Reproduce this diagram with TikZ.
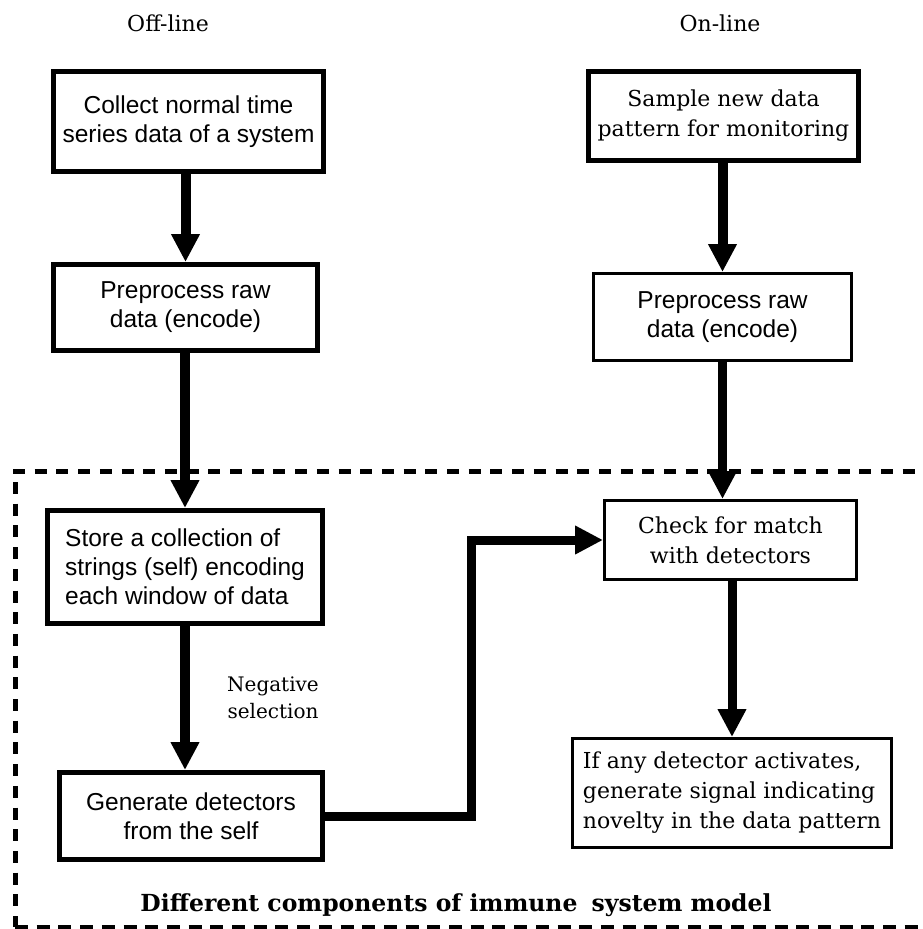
\documentclass[tikz,border=0pt]{standalone}
\usepackage{fontspec}
\setmainfont{DejaVu Serif}
\newfontfamily\sansf{Liberation Sans}
\usetikzlibrary{arrows.meta}
\tikzset{
  thickbox/.style={draw, line width=5pt, inner sep=0pt},
  thinbox/.style={draw, line width=3pt, inner sep=0pt},
  sanstext/.style={font=\sansf\fontsize{24.5}{29}\selectfont},
  seriftext/.style={font=\fontsize{22}{30}\selectfont},
  flow/.style={line width=10pt, -{Triangle[width=27pt,length=28pt]}},
  flowthin/.style={line width=9pt, -{Triangle[width=27pt,length=28pt]}, line join=miter},
  dashtop/.style={line width=5pt, dash pattern=on 12pt off 9.7pt},
  dashbot/.style={line width=4pt, dash pattern=on 13pt off 8.7pt},
}
\begin{document}
\begin{tikzpicture}[x=1pt,y=-1pt]
\useasboundingbox (0,0) rectangle (923,929);
% headings
\node[seriftext] (offline) at (168,23) {Off-line};
\node[seriftext] (online) at (720,23) {On-line};
% left column
\node[thickbox, sanstext, align=center, minimum width=270pt, minimum height=100pt] (collect) at (188.5,121.5)
  {Collect normal time\\series data of a system};
\node[thickbox, sanstext, align=center, minimum width=264pt, minimum height=86pt] (preL) at (185.5,307.5)
  {Preprocess raw\\data (encode)};
\node[thickbox, sanstext, align=left, minimum width=275pt, minimum height=113pt] (store) at (185,567)
  {Store a collection of\\strings (self) encoding\\each window of data};
\node[thickbox, sanstext, align=center, minimum width=263pt, minimum height=87pt] (gen) at (191,816)
  {Generate detectors\\from the self};
% right column
\node[thickbox, seriftext, align=center, minimum width=270pt, minimum height=89pt] (sample) at (723.5,116)
  {Sample new data\\pattern for monitoring};
\node[thinbox, sanstext, align=center, minimum width=258pt, minimum height=87pt] (preR) at (722.5,317)
  {Preprocess raw\\data (encode)};
\node[thinbox, seriftext, align=center, minimum width=252pt, minimum height=79pt] (check) at (730.5,540)
  {Check for match\\with detectors};
\node[thinbox, seriftext, align=left, minimum width=319pt, minimum height=109pt] (alarm) at (732,793)
  {If any detector activates,\\generate signal indicating\\novelty in the data pattern};
% labels
\node[font=\fontsize{20}{27}\selectfont, align=center] (neg) at (273,698) {Negative\\selection};
\node[font=\bfseries\fontsize{23.5}{26}\selectfont] (title) at (456,905) {Different components of immune\hspace{6pt} system model};
% dashed region
\coordinate (dtl) at (13,471);
\coordinate (dtr) at (930,471);
\coordinate (dl1) at (15,482);
\coordinate (dbl) at (15,927);
\coordinate (dbr) at (930,927);
\draw[dashtop] (dtl) -- (dtr);
\draw[dashtop] (dl1) -- (dbl);
\draw[dashbot] (dbl) -- (dbr);
% connectors
\draw[flow] (preL.north |- collect.south) -- (preL.north);
\draw[flow] (store.north |- preL.south) -- (store.north);
\draw[flow] (store.south) -- (store.south |- gen.north);
\draw[flow] (preR.north |- sample.south) -- (preR.north);
\draw[flowthin] (preR.south) -- (preR.south |- check.north);
\draw[flowthin] (alarm.north |- check.south) -- (alarm.north);
\coordinate (elbow) at (471,0);
\draw[flowthin] (gen.east) -| (elbow |- check.west) -- (check.west);
\end{tikzpicture}
\end{document}
